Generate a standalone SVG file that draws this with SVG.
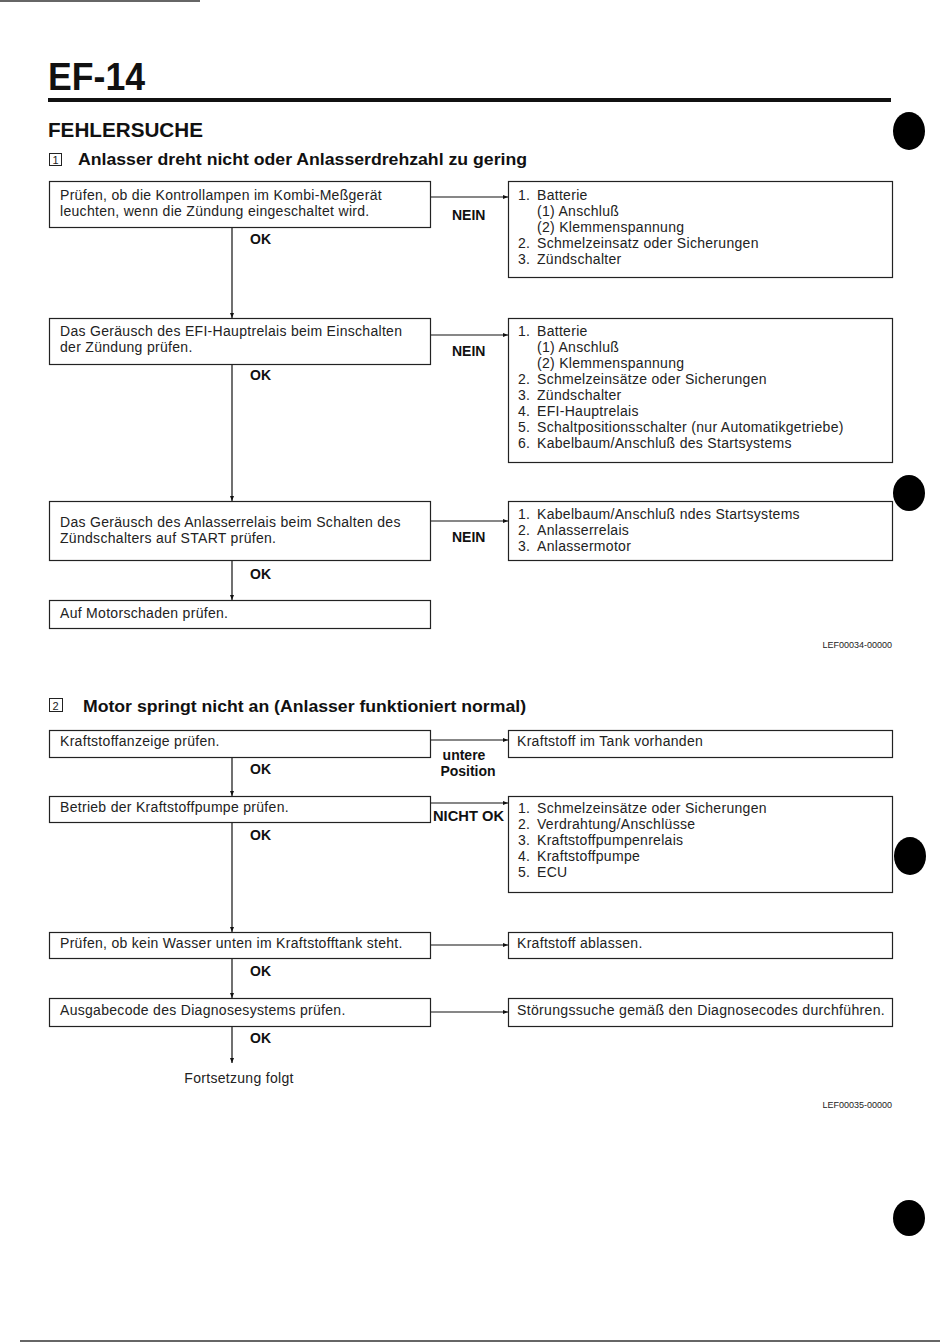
<svg xmlns="http://www.w3.org/2000/svg" width="950" height="1344" viewBox="0 0 950 1344">
<defs>
<marker id="ah" markerWidth="6" markerHeight="6" refX="5" refY="3" orient="auto" markerUnits="userSpaceOnUse"><path d="M0,1 L5,3 L0,5 Z" fill="#111"/></marker>
<style>
.box{fill:#fff;stroke:#222;stroke-width:1.2}
.t{font-family:"Liberation Sans",Arial,sans-serif;font-size:14px;letter-spacing:0.3px;fill:#222}
.b{font-family:"Liberation Sans",Arial,sans-serif;font-size:14px;font-weight:bold;fill:#111}
.h{font-family:"Liberation Sans",Arial,sans-serif;font-size:16px;font-weight:bold;fill:#111}
.c{stroke:#111;stroke-width:1.2;fill:none;marker-end:url(#ah)}
.code{font-family:"Liberation Sans",Arial,sans-serif;font-size:9px;fill:#222}
.dot{fill:#000}
</style>
</defs>
<rect width="950" height="1344" fill="#fff"/>
<g id="page">
<line x1="0" y1="1" x2="200" y2="1" stroke="#333" stroke-width="1.5"/>
<text x="48" y="90" font-family="Liberation Sans Narrow,Liberation Sans,Arial,sans-serif" font-size="38" font-weight="bold" fill="#111" textLength="97" lengthAdjust="spacingAndGlyphs">EF-14</text>
<rect x="48" y="98" width="843" height="4" fill="#111"/>
<text x="48" y="137" font-family="Liberation Sans,Arial,sans-serif" font-size="20" font-weight="bold" fill="#111" textLength="155" lengthAdjust="spacingAndGlyphs">FEHLERSUCHE</text>
<ellipse class="dot" cx="909" cy="131" rx="16" ry="19"/>
<ellipse class="dot" cx="909" cy="493" rx="16" ry="18"/>
<ellipse class="dot" cx="910" cy="856" rx="16" ry="19"/>
<ellipse class="dot" cx="909" cy="1218" rx="16" ry="18"/>
<line x1="20" y1="1341" x2="940" y2="1341" stroke="#333" stroke-width="1.5"/>
<rect x="49.5" y="153.5" width="12" height="12" fill="none" stroke="#222" stroke-width="1"/>
<text x="52.5" y="164" font-family="Liberation Sans,Arial,sans-serif" font-size="11" fill="#222">1</text>
<text class="h" x="78" y="165" textLength="449" lengthAdjust="spacingAndGlyphs">Anlasser dreht nicht oder Anlasserdrehzahl zu gering</text>
<rect x="49.5" y="698.5" width="13" height="13" fill="none" stroke="#222" stroke-width="1"/>
<text x="52.5" y="710" font-family="Liberation Sans,Arial,sans-serif" font-size="11" fill="#222">2</text>
<text class="h" x="83" y="712" textLength="443" lengthAdjust="spacingAndGlyphs">Motor springt nicht an (Anlasser funktioniert normal)</text>
<text class="code" x="892" y="648" text-anchor="end">LEF00034-00000</text>
<text class="code" x="892" y="1108" text-anchor="end">LEF00035-00000</text>
</g>
<g id="connectors">
<path class="c" d="M430,197 H508"/>
<path class="c" d="M232,227 V318"/>
<path class="c" d="M430,335 H508"/>
<path class="c" d="M232,364 V501"/>
<path class="c" d="M430,521 H508"/>
<path class="c" d="M232,560 V600"/>
<path class="c" d="M430,740 H508"/>
<path class="c" d="M232,757 V796"/>
<path class="c" d="M430,803 H508"/>
<path class="c" d="M232,822 V932"/>
<path class="c" d="M430,945 H508"/>
<path class="c" d="M232,958 V998"/>
<path class="c" d="M430,1012 H508"/>
<path class="c" d="M232,1026 V1063"/>
<text class="b" x="452" y="220">NEIN</text>
<text class="b" x="250" y="244">OK</text>
<text class="b" x="452" y="356">NEIN</text>
<text class="b" x="250" y="380">OK</text>
<text class="b" x="452" y="542">NEIN</text>
<text class="b" x="250" y="579">OK</text>
<text class="b" x="464" y="760" text-anchor="middle">untere</text>
<text class="b" x="468" y="776" text-anchor="middle">Position</text>
<text class="b" x="250" y="774">OK</text>
<text class="b" x="433" y="821" textLength="71" lengthAdjust="spacingAndGlyphs">NICHT OK</text>
<text class="b" x="250" y="840">OK</text>
<text class="b" x="250" y="976">OK</text>
<text class="b" x="250" y="1043">OK</text>
</g>
<g id="n1">
<rect class="box" x="49.5" y="181.5" width="381" height="46"/>
<text class="t" x="60" y="200">Prüfen, ob die Kontrollampen im Kombi-Meßgerät</text>
<text class="t" x="60" y="216">leuchten, wenn die Zündung eingeschaltet wird.</text>
</g>
<g id="r1">
<rect class="box" x="508.5" y="181.5" width="384" height="96"/>
<text class="t" x="518" y="200">1.</text><text class="t" x="537" y="200">Batterie</text>
<text class="t" x="537" y="216">(1) Anschluß</text>
<text class="t" x="537" y="232">(2) Klemmenspannung</text>
<text class="t" x="518" y="248">2.</text><text class="t" x="537" y="248">Schmelzeinsatz oder Sicherungen</text>
<text class="t" x="518" y="264">3.</text><text class="t" x="537" y="264">Zündschalter</text>
</g>
<g id="n2">
<rect class="box" x="49.5" y="318.5" width="381" height="46"/>
<text class="t" x="60" y="336">Das Geräusch des EFI-Hauptrelais beim Einschalten</text>
<text class="t" x="60" y="352">der Zündung prüfen.</text>
</g>
<g id="r2">
<rect class="box" x="508.5" y="318.5" width="384" height="144"/>
<text class="t" x="518" y="336">1.</text><text class="t" x="537" y="336">Batterie</text>
<text class="t" x="537" y="352">(1) Anschluß</text>
<text class="t" x="537" y="368">(2) Klemmenspannung</text>
<text class="t" x="518" y="384">2.</text><text class="t" x="537" y="384">Schmelzeinsätze oder Sicherungen</text>
<text class="t" x="518" y="400">3.</text><text class="t" x="537" y="400">Zündschalter</text>
<text class="t" x="518" y="416">4.</text><text class="t" x="537" y="416">EFI-Hauptrelais</text>
<text class="t" x="518" y="432">5.</text><text class="t" x="537" y="432">Schaltpositionsschalter (nur Automatikgetriebe)</text>
<text class="t" x="518" y="448">6.</text><text class="t" x="537" y="448">Kabelbaum/Anschluß des Startsystems</text>
</g>
<g id="n3">
<rect class="box" x="49.5" y="501.5" width="381" height="59"/>
<text class="t" x="60" y="527">Das Geräusch des Anlasserrelais beim Schalten des</text>
<text class="t" x="60" y="543">Zündschalters auf START prüfen.</text>
</g>
<g id="r3">
<rect class="box" x="508.5" y="501.5" width="384" height="59"/>
<text class="t" x="518" y="519">1.</text><text class="t" x="537" y="519">Kabelbaum/Anschluß ndes Startsystems</text>
<text class="t" x="518" y="535">2.</text><text class="t" x="537" y="535">Anlasserrelais</text>
<text class="t" x="518" y="551">3.</text><text class="t" x="537" y="551">Anlassermotor</text>
</g>
<g id="n4">
<rect class="box" x="49.5" y="600.5" width="381" height="28"/>
<text class="t" x="60" y="618">Auf Motorschaden prüfen.</text>
</g>
<g id="n5">
<rect class="box" x="49.5" y="730.5" width="381" height="27"/>
<text class="t" x="60" y="746">Kraftstoffanzeige prüfen.</text>
</g>
<g id="r5">
<rect class="box" x="508.5" y="730.5" width="384" height="27"/>
<text class="t" x="517" y="746">Kraftstoff im Tank vorhanden</text>
</g>
<g id="n6">
<rect class="box" x="49.5" y="796.5" width="381" height="26"/>
<text class="t" x="60" y="812">Betrieb der Kraftstoffpumpe prüfen.</text>
</g>
<g id="r6">
<rect class="box" x="508.5" y="796.5" width="384" height="96"/>
<text class="t" x="518" y="813">1.</text><text class="t" x="537" y="813">Schmelzeinsätze oder Sicherungen</text>
<text class="t" x="518" y="829">2.</text><text class="t" x="537" y="829">Verdrahtung/Anschlüsse</text>
<text class="t" x="518" y="845">3.</text><text class="t" x="537" y="845">Kraftstoffpumpenrelais</text>
<text class="t" x="518" y="861">4.</text><text class="t" x="537" y="861">Kraftstoffpumpe</text>
<text class="t" x="518" y="877">5.</text><text class="t" x="537" y="877">ECU</text>
</g>
<g id="n7">
<rect class="box" x="49.5" y="932.5" width="381" height="26"/>
<text class="t" x="60" y="948">Prüfen, ob kein Wasser unten im Kraftstofftank steht.</text>
</g>
<g id="r7">
<rect class="box" x="508.5" y="932.5" width="384" height="26"/>
<text class="t" x="517" y="948">Kraftstoff ablassen.</text>
</g>
<g id="n8">
<rect class="box" x="49.5" y="998.5" width="381" height="28"/>
<text class="t" x="60" y="1015">Ausgabecode des Diagnosesystems prüfen.</text>
</g>
<g id="r8">
<rect class="box" x="508.5" y="998.5" width="384" height="28"/>
<text class="t" x="517" y="1015" textLength="368" lengthAdjust="spacingAndGlyphs">Störungssuche gemäß den Diagnosecodes durchführen.</text>
</g>
<g id="cont">
<text class="t" x="239" y="1083" text-anchor="middle">Fortsetzung folgt</text>
</g>
</svg>
